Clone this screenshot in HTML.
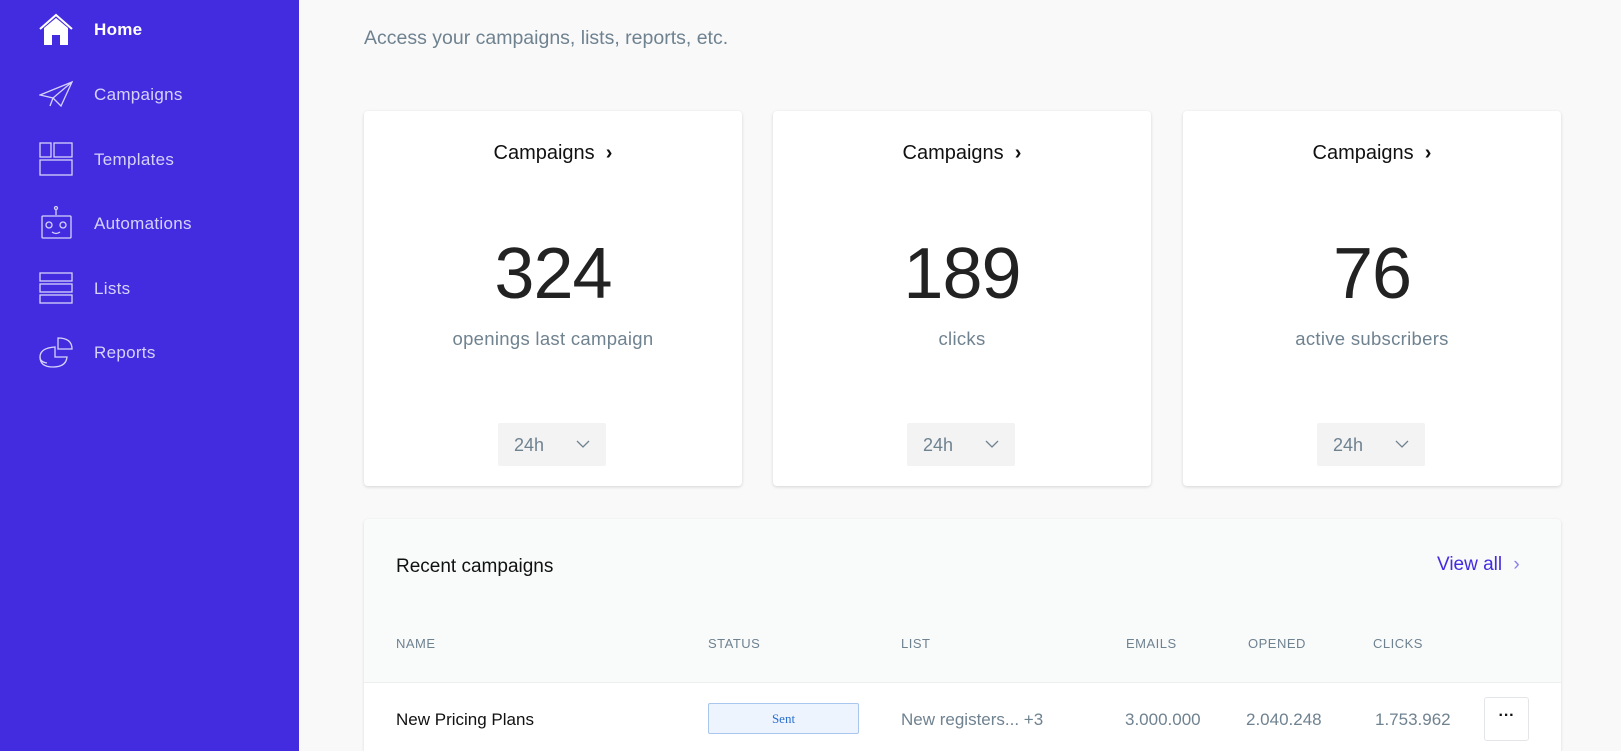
<!DOCTYPE html>
<html style="overflow:hidden;height:751px"><head><meta charset="utf-8"><style>
*{margin:0;padding:0;box-sizing:border-box}
body{width:1621px;height:751px;overflow:hidden;background:#f9f9f9;font-family:"Liberation Sans",sans-serif;position:relative}
.side{position:absolute;left:0;top:0;width:299px;height:751px;background:#432ce0}
.nav{position:absolute;left:94px;font-size:17px;color:#d6d2fb;letter-spacing:.3px}
.ic{position:absolute;left:39px}
.sub{position:absolute;left:364px;top:27px;font-size:19.5px;color:#6f8290}
.card{position:absolute;top:111px;width:378px;height:375px;background:#fff;border-radius:4px;box-shadow:0 1px 3px rgba(0,0,0,.15);text-align:center}
.card .t{position:absolute;top:31px;left:0;right:0;font-size:20px;color:#111}
.card .n{position:absolute;top:122px;left:0;right:0;font-size:72px;color:#222;font-weight:300;letter-spacing:-1px}
.card .l{position:absolute;top:217px;left:0;right:0;font-size:18.5px;color:#6f8290;letter-spacing:.3px}
.dd{position:absolute;top:312px;left:134px;width:108px;height:43px;background:#f3f3f4;border-radius:2px;font-size:18px;color:#6f8290;text-align:left;padding:12px 0 0 16px}
.dd svg{position:absolute;right:16px;top:17px}
.panel{position:absolute;left:364px;top:519px;width:1197px;height:232px;background:#f9fafa;border-radius:4px 4px 0 0;box-shadow:0 1px 3px rgba(0,0,0,.12)}
.h{position:absolute;top:636px;font-size:13px;color:#6f8290;letter-spacing:.5px}
.c{position:absolute;top:710px;font-size:17px;color:#6f8290}
</style></head><body>
<div class="side">
<svg class="ic" style="top:13px" width="34" height="34" viewBox="0 0 34 34"><path d="M1 16 L17 2 L33 16" fill="none" stroke="#fff" stroke-width="2"/><path d="M5 15 L17 5 L29 15 V32 H21 V22 H13 V32 H5Z" fill="#fff"/></svg>
<div class="nav" style="top:20px;color:#fff;font-weight:bold">Home</div>
<svg class="ic" style="top:80px" width="34" height="28" viewBox="0 0 34 28" fill="none" stroke="#d6d2fb" stroke-width="1.3"><path d="M1 15 L33 2 L22 26 L14 18 Z M33 2 L14 18 L11 26 L14 18"/></svg>
<div class="nav" style="top:85px">Campaigns</div>
<svg class="ic" style="top:142px" width="34" height="34" viewBox="0 0 34 34" fill="none" stroke="#d6d2fb" stroke-width="1.3"><rect x="1" y="1" width="11" height="14"/><rect x="15" y="1" width="18" height="14"/><rect x="1" y="18" width="32" height="15"/></svg>
<div class="nav" style="top:150px">Templates</div>
<svg class="ic" style="top:206px" width="34" height="34" viewBox="0 0 34 34" fill="none" stroke="#d6d2fb" stroke-width="1.3"><circle cx="17" cy="2" r="1.5"/><path d="M17 4V9"/><rect x="3" y="10" width="29" height="22" rx="1"/><circle cx="10" cy="19" r="3"/><circle cx="24" cy="19" r="3"/><path d="M13 26 Q17 29 21 26"/></svg>
<div class="nav" style="top:214px">Automations</div>
<svg class="ic" style="top:272px" width="34" height="34" viewBox="0 0 34 34" fill="none" stroke="#d6d2fb" stroke-width="1.3"><rect x="1" y="1" width="32" height="8"/><rect x="1" y="12" width="32" height="8"/><rect x="1" y="23" width="32" height="8"/></svg>
<div class="nav" style="top:279px">Lists</div>
<svg class="ic" style="top:337px" width="34" height="32" viewBox="0 0 34 32" fill="none" stroke="#d6d2fb" stroke-width="1.3"><path d="M19 1 Q33 1 33 12 H19Z"/><path d="M16 10 Q1 11 1 20 Q1 30 14 30 Q27 30 28 20 L16 20Z"/><path d="M1 20 Q1 25 8 26"/></svg>
<div class="nav" style="top:343px">Reports</div>
</div>
<div class="sub">Access your campaigns, lists, reports, etc.</div>

<div class="card" style="left:364px"><div class="t">Campaigns &nbsp;<b>›</b></div><div class="n">324</div><div class="l">openings last campaign</div><div class="dd">24h<svg width="14" height="8"><path d="M1 1 L7 7 L13 1" fill="none" stroke="#6f8290" stroke-width="1.3"/></svg></div></div>
<div class="card" style="left:773px"><div class="t">Campaigns &nbsp;<b>›</b></div><div class="n">189</div><div class="l">clicks</div><div class="dd">24h<svg width="14" height="8"><path d="M1 1 L7 7 L13 1" fill="none" stroke="#6f8290" stroke-width="1.3"/></svg></div></div>
<div class="card" style="left:1183px"><div class="t">Campaigns &nbsp;<b>›</b></div><div class="n">76</div><div class="l">active subscribers</div><div class="dd">24h<svg width="14" height="8"><path d="M1 1 L7 7 L13 1" fill="none" stroke="#6f8290" stroke-width="1.3"/></svg></div></div>

<div class="panel"></div>
<div style="position:absolute;left:364px;top:682px;width:1197px;height:69px;background:#fff;border-top:1px solid #eceef0"></div>
<div style="position:absolute;left:396px;top:556px;font-size:19px;color:#111">Recent campaigns</div>
<div style="position:absolute;left:1437px;top:554px;font-size:19px;color:#432ce0">View all <span style="color:#8a7ff0;margin-left:6px">›</span></div>
<div class="h" style="left:396px">NAME</div>
<div class="h" style="left:708px">STATUS</div>
<div class="h" style="left:901px">LIST</div>
<div class="h" style="left:1126px">EMAILS</div>
<div class="h" style="left:1248px">OPENED</div>
<div class="h" style="left:1373px">CLICKS</div>
<div class="c" style="left:396px;color:#111">New Pricing Plans</div>
<div style="position:absolute;left:708px;top:703px;width:151px;height:31px;background:#eef4fd;border:1px solid #a9c7ee;border-radius:2px;font-family:'Liberation Serif',serif;font-size:13px;color:#2a6fd0;text-align:center;line-height:29px">Sent</div>
<div class="c" style="left:901px">New registers... +3</div>
<div class="c" style="left:1125px">3.000.000</div>
<div class="c" style="left:1246px">2.040.248</div>
<div class="c" style="left:1375px">1.753.962</div>
<div style="position:absolute;left:1484px;top:697px;width:45px;height:44px;background:#fff;border:1px solid #e3e5e8;border-radius:3px;text-align:center;font-size:16px;line-height:36px;font-weight:bold;color:#111">···</div>
</body></html>
